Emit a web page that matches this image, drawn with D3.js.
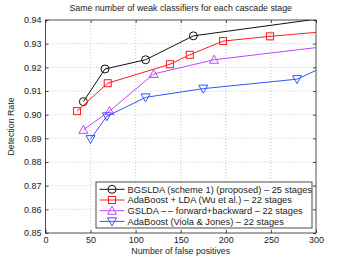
<!DOCTYPE html>
<html lang="en">
<head>
  <meta charset="UTF-8" />
  <title>Cascade detection rate</title>
  <script src="https://d3js.org/d3.v7.min.js"></script>
  <style>
    body { margin: 0; background: #fff; }
    svg { display: block; font-family: "Liberation Sans", Arial, sans-serif; }
    .tick text { font-size: 9px; fill: #222; }
    .label { font-size: 8.8px; fill: #222; }
    .legend text { font-size: 9.3px; fill: #222; }
  </style>
</head>
<body>
  <svg id="chart" width="349" height="262"></svg>
  <script>
    // false positives (x) / detection rate (y)
    const bgsldaX = [42, 66, 111, 164, 330];
    const bgsldaY = [0.9055, 0.9193, 0.9232, 0.9333, 0.9419];
    const wuX = [35, 69, 138, 160, 197, 249, 350];
    const wuY = [0.9015, 0.9133, 0.9213, 0.9253, 0.9311, 0.9331, 0.9364];
    const gsldaX = [42, 71, 120, 187, 350];
    const gsldaY = [0.8936, 0.9015, 0.9172, 0.9232, 0.9306];
    const violaX = [50, 68, 111, 175, 279, 330];
    const violaY = [0.8897, 0.8993, 0.9073, 0.9110, 0.9150, 0.9240];

    const series = [
      { name: "BGSLDA (scheme 1) (proposed) \u2013 25 stages", x: bgsldaX, y: bgsldaY, color: "#111", marker: "circle" },
      { name: "AdaBoost + LDA (Wu et al.) \u2013 22 stages", x: wuX, y: wuY, color: "#ff1a1a", marker: "square" },
      { name: "GSLDA \u2013\u2009\u2013 forward+backward \u2013 22 stages", x: gsldaX, y: gsldaY, color: "#bf45ff", marker: "up" },
      { name: "AdaBoost (Viola & Jones) \u2013 22 stages", x: violaX, y: violaY, color: "#3355ff", marker: "down" }
    ];

    const xTicks = [0, 50, 100, 150, 200, 250, 300];
    const yTicks = [0.85, 0.86, 0.87, 0.88, 0.89, 0.9, 0.91, 0.92, 0.93, 0.94];

    const m = { left: 45.5, right: 33, top: 20, bottom: 29 };
    const W = 349, H = 262;
    const svg = d3.select("#chart");

    const x = d3.scaleLinear().domain([0, 300]).range([m.left, W - m.right]);
    const y = d3.scaleLinear().domain([0.85, 0.94]).range([H - m.bottom, m.top]);

    svg.append("defs").append("clipPath").attr("id", "clip")
      .append("rect")
      .attr("x", x(0)).attr("y", y(0.94))
      .attr("width", x(300) - x(0)).attr("height", y(0.85) - y(0.94));

    // grid
    const grid = svg.append("g").attr("stroke", "#bbb").attr("stroke-dasharray", "1,2").attr("stroke-width", 0.8);
    grid.selectAll(".gx").data(xTicks.slice(1, -1)).join("line")
      .attr("x1", d => x(d)).attr("x2", d => x(d)).attr("y1", y(0.85)).attr("y2", y(0.94));
    grid.selectAll(".gy").data(yTicks.slice(1, -1)).join("line")
      .attr("x1", x(0)).attr("x2", x(300)).attr("y1", d => y(d)).attr("y2", d => y(d));

    // axes with inward ticks
    const tick = 3;
    svg.append("g").attr("transform", `translate(0,${y(0.85)})`)
      .call(d3.axisBottom(x).tickValues(xTicks).tickSize(-tick).tickPadding(4).tickFormat(d3.format("d")))
      .call(g => g.select(".domain").remove());
    svg.append("g").attr("transform", `translate(0,${y(0.94)})`)
      .call(d3.axisTop(x).tickValues(xTicks).tickSize(-tick).tickFormat(""))
      .call(g => g.select(".domain").remove());
    svg.append("g").attr("transform", `translate(${x(0)},0)`)
      .call(d3.axisLeft(y).tickValues(yTicks).tickSize(-tick).tickPadding(4).tickFormat(d3.format(".2f")))
      .call(g => g.select(".domain").remove());
    svg.append("g").attr("transform", `translate(${x(300)},0)`)
      .call(d3.axisRight(y).tickValues(yTicks).tickSize(-tick).tickFormat(""))
      .call(g => g.select(".domain").remove());
    svg.selectAll(".tick line").attr("stroke", "#222").attr("stroke-width", 0.8);

    svg.append("rect")
      .attr("x", x(0)).attr("y", y(0.94))
      .attr("width", x(300) - x(0)).attr("height", y(0.85) - y(0.94))
      .attr("fill", "none").attr("stroke", "#222").attr("stroke-width", 0.8);

    function marker(sel, type, color) {
      if (type === "circle") {
        sel.append("circle").attr("r", 4);
      } else if (type === "square") {
        sel.append("rect").attr("x", -3.5).attr("y", -3.5).attr("width", 7).attr("height", 7);
      } else if (type === "up") {
        sel.append("path").attr("d", "M0,-4.5L4.5,3.5L-4.5,3.5Z");
      } else {
        sel.append("path").attr("d", "M0,4.5L4.5,-3.5L-4.5,-3.5Z");
      }
      sel.selectAll("*").attr("fill", "none").attr("stroke", color).attr("stroke-width", 1);
    }

    const line = d3.line().x(d => x(d[0])).y(d => y(d[1]));
    const plot = svg.append("g").attr("clip-path", "url(#clip)");
    series.forEach(s => {
      const pts = s.x.map((v, i) => [v, s.y[i]]);
      plot.append("path").datum(pts).attr("d", line)
        .attr("fill", "none").attr("stroke", s.color).attr("stroke-width", 1);
      plot.selectAll(null).data(pts).join("g")
        .attr("transform", d => `translate(${x(d[0])},${y(d[1])})`)
        .each(function () { marker(d3.select(this), s.marker, s.color); });
    });

    // legend
    const lg = svg.append("g").attr("class", "legend").attr("transform", "translate(96,182)");
    lg.append("rect").attr("width", 216).attr("height", 46)
      .attr("fill", "#fff").attr("stroke", "#222").attr("stroke-width", 0.8);
    series.forEach((s, i) => {
      const row = lg.append("g").attr("transform", `translate(0,${7.3 + i * 10.7})`);
      row.append("line").attr("x1", 3.5).attr("x2", 28.5)
        .attr("stroke", s.color).attr("stroke-width", 1);
      marker(row.append("g").attr("transform", "translate(16,0)"), s.marker, s.color);
      row.append("text").attr("x", 31.5).attr("dy", "0.35em").text(s.name);
    });

    svg.append("text").attr("class", "label").attr("x", (x(0) + x(300)) / 2).attr("y", 11)
      .attr("text-anchor", "middle").text("Same number of weak classifiers for each cascade stage");
    svg.append("text").attr("class", "label").attr("x", (x(0) + x(300)) / 2).attr("y", 254)
      .attr("text-anchor", "middle").text("Number of false positives");
    svg.append("text").attr("class", "label")
      .attr("transform", `translate(14,${(y(0.85) + y(0.94)) / 2}) rotate(-90)`)
      .attr("text-anchor", "middle").text("Detection Rate");
  </script>
</body>
</html>
